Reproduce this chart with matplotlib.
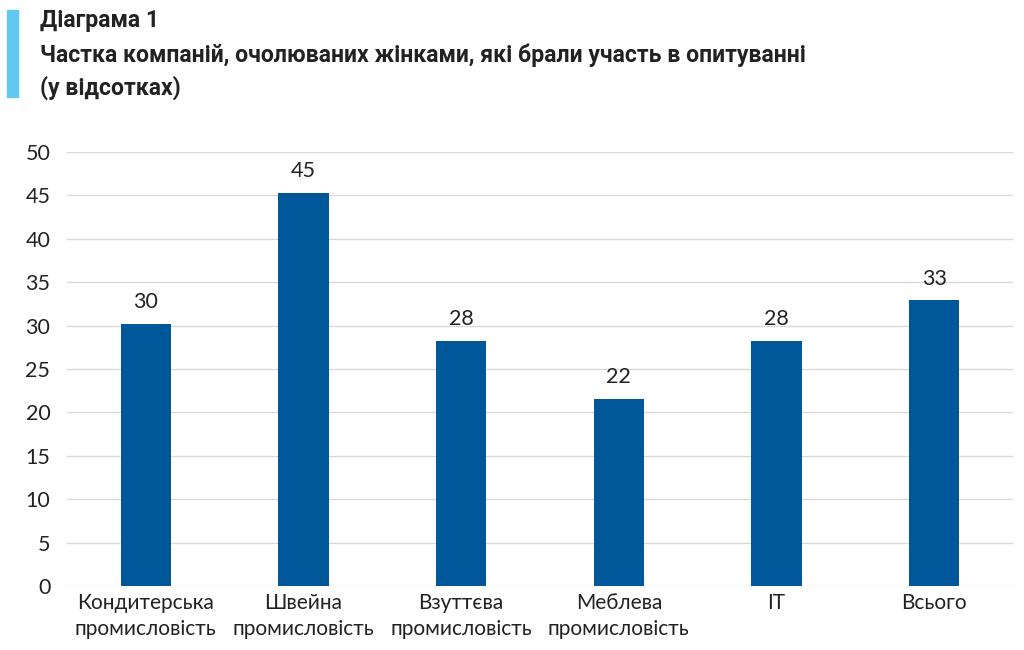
import matplotlib
matplotlib.use("Agg")
import matplotlib.pyplot as plt
from matplotlib.patches import Rectangle

categories = ["Кондитерська\nпромисловість", "Швейна\nпромисловість", "Взуттєва\nпромисловість",
              "Меблева\nпромисловість", "IT", "Всього"]
values = [30.2, 45.3, 28.2, 21.6, 28.2, 32.9]
labels = ["30", "45", "28", "22", "28", "33"]
yticks = [0, 5, 10, 15, 20, 25, 30, 35, 40, 45, 50]

title_lines = ["Діаграма 1",
               "Частка компаній, очолюваних жінками, які брали участь в опитуванні",
               "(у відсотках)"]

bar_color = "#00589a"
side_color = "#63c8ef"

fig = plt.figure(figsize=(10.24, 6.5), dpi=100)
ax = fig.add_axes([67/1024, 1-586/650, (1013-67)/1024, (586-152)/650])

x = list(range(len(categories)))
ax.bar(x, values, width=0.32, color=bar_color, zorder=3)
for xi, v, l in zip(x, values, labels):
    ax.annotate(l, (xi, v), xytext=(0, 8.5), textcoords="offset points",
                ha="center", va="bottom", fontsize=15.5, family="Lato", color="#222222")

ax.set_xlim(-0.5, len(categories) - 0.5)
ax.set_ylim(0, 50)
ax.set_yticks(yticks)
ax.set_xticks(x)
ax.set_xticklabels(categories, family="Lato", fontsize=15, color="#222222", linespacing=1.4)
for t in ax.get_yticklabels():
    t.set_family("Lato"); t.set_fontsize(15.5); t.set_color("#222222")
ax.tick_params(axis="y", length=0, pad=12)
ax.tick_params(axis="x", length=0, pad=5)
ax.grid(axis="y", color="#d9d9d9", linewidth=1, zorder=0)
for s in ax.spines.values():
    s.set_visible(False)

fig.patches.append(Rectangle((7/1024, 1-97/650), 11/1024, 87/650, transform=fig.transFigure,
                             color=side_color, zorder=5))
ys = [20, 55, 88]
for line, y in zip(title_lines, ys):
    fig.text(40/1024, 1-y/650, line, ha="left", va="center", fontsize=16.6,
             family="Roboto", fontweight="bold", color="#222222")

fig.savefig("out.png", dpi=100, facecolor="white")
